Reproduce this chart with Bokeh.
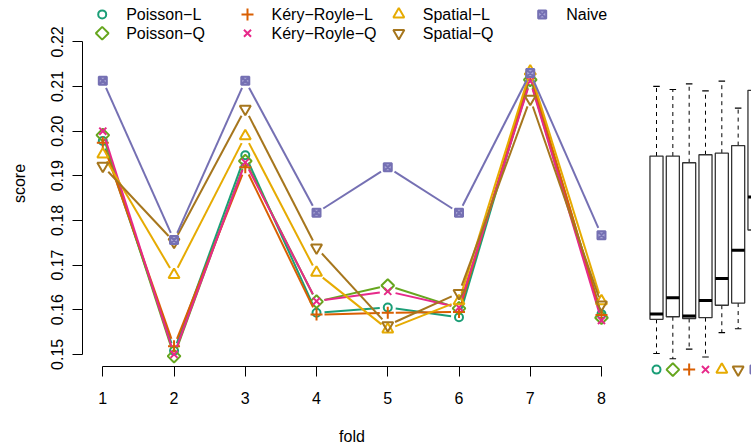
import numpy as np
from bokeh.plotting import figure
from bokeh.models import Range1d, FixedTicker
from bokeh.layouts import row
from bokeh.embed import file_html
from bokeh.resources import INLINE
from bokeh.core.properties import value

# ---------------- data ----------------
folds = [1, 2, 3, 4, 5, 6, 7, 8]
methods = ["Poisson−L", "Poisson−Q", "Kéry−Royle−L", "Kéry−Royle−Q",
           "Spatial−L", "Spatial−Q", "Naive"]
poisson_l = [0.1978, 0.1508, 0.1946, 0.1593, 0.1605, 0.1583, 0.2122, 0.1590]
poisson_q = [0.1991, 0.1496, 0.1933, 0.1618, 0.1654, 0.1603, 0.2115, 0.1582]
kery_l    = [0.1974, 0.1518, 0.1919, 0.1589, 0.1593, 0.1595, 0.2128, 0.1588]
kery_q    = [0.2000, 0.1500, 0.1930, 0.1619, 0.1641, 0.1605, 0.2112, 0.1576]
spatial_l = [0.1948, 0.1678, 0.1989, 0.1683, 0.1556, 0.1619, 0.2134, 0.1619]
spatial_q = [0.1922, 0.1752, 0.2050, 0.1739, 0.1565, 0.1637, 0.2072, 0.1611]
naive     = [0.2113, 0.1756, 0.2113, 0.1817, 0.1919, 0.1817, 0.2130, 0.1767]
series = [poisson_l, poisson_q, kery_l, kery_q, spatial_l, spatial_q, naive]

y_ticks = [0.15, 0.16, 0.17, 0.18, 0.19, 0.20, 0.21, 0.22]
y_tick_labels = ["0.15", "0.16", "0.17", "0.18", "0.19", "0.20", "0.21", "0.22"]
x_tick_labels = ["1", "2", "3", "4", "5", "6", "7", "8"]

# ---------------- styles ----------------
colors = ["#1B9E77", "#66A61E", "#D95F02", "#E7298A", "#E6AB02", "#A6761D", "#7570B3"]
markers = ["circle", "square", "cross", "x", "triangle", "inverted_triangle", "square_x"]
angles = [0, np.pi / 4, 0, 0, 0, 0, 0]
sizes = [8, 9, 12, 10, 11, 11, 8]
fills = [None, None, None, None, None, None, "#A9A6D6"]
FONT = "Liberation Sans"
FS = "16px"

# ---------------- main figure ----------------
W1, H = 640, 447
BL, BR, BT, BB = 82, 19, 0, 78
x0, x1 = 0.715, 8.281
y0, y1 = 0.14727, 0.229267

p = figure(width=W1, height=H, title=None,
           x_range=Range1d(x0, x1), y_range=Range1d(y0, y1),
           output_backend="svg", toolbar_location=None,
           min_border_left=BL, min_border_right=BR,
           min_border_top=BT, min_border_bottom=BB,
           outline_line_color=None, background_fill_color="white",
           frame_align=False)
p.grid.visible = False

xa = p.xaxis[0]
xa.ticker = FixedTicker(ticks=folds)
xa.major_label_overrides = {f: l for f, l in zip(folds, x_tick_labels)}
xa.bounds = (folds[0], folds[-1])
xa.axis_label = "fold"
ya = p.yaxis[0]
ya.ticker = FixedTicker(ticks=y_ticks)
ya.major_label_overrides = {t: l for t, l in zip(y_ticks, y_tick_labels)}
ya.bounds = (y_ticks[0], y_ticks[-1])
ya.axis_label = "score"
ya.major_label_orientation = "vertical"
for ax in (xa, ya):
    ax.major_tick_out = 10
    ax.major_tick_in = 0
    ax.minor_tick_line_color = None
    ax.axis_line_color = "black"
    ax.major_tick_line_color = "black"
    ax.major_label_text_font = FONT
    ax.major_label_text_font_size = FS
    ax.major_label_text_color = "black"
    ax.axis_label_text_font = FONT
    ax.axis_label_text_font_size = FS
    ax.axis_label_text_font_style = "normal"
    ax.axis_label_text_color = "black"
xa.major_label_standoff = 15
xa.axis_label_standoff = 21
ya.major_label_standoff = 9
ya.axis_label_standoff = 21

# px scale for R-style "type = b" gaps
sx = (W1 - BL - BR) / (x1 - x0)
sy = (H - BT - BB) / (y1 - y0)
GAP = 8.0


def gapped(xs, ys):
    a0, b0, a1, b1 = [], [], [], []
    for i in range(len(xs) - 1):
        dxv, dyv = xs[i + 1] - xs[i], ys[i + 1] - ys[i]
        L = np.hypot(dxv * sx, dyv * sy)
        if L <= 2 * GAP:
            continue
        f = GAP / L
        a0.append(xs[i] + dxv * f)
        b0.append(ys[i] + dyv * f)
        a1.append(xs[i + 1] - dxv * f)
        b1.append(ys[i + 1] - dyv * f)
    return a0, b0, a1, b1


for vals, c, m, a, s, fc in zip(series, colors, markers, angles, sizes, fills):
    a0, b0, a1, b1 = gapped(folds, vals)
    p.segment(x0=a0, y0=b0, x1=a1, y1=b1, line_color=c, line_width=2)
    p.scatter(x=folds, y=vals, marker=m, angle=a, size=s, line_color=c,
              line_width=2, fill_color=fc)

# legend (page-pixel layout ranges)
p.extra_x_ranges = {"px": Range1d(BL, W1 - BR)}
p.extra_y_ranges = {"py": Range1d(H - BB, BT)}
leg_col_x = [101.7, 247.0, 398.3, 541.7]
leg_row_y = [14.0, 33.0]
for i, (name, c, m, a, s, fc) in enumerate(zip(methods, colors, markers, angles, sizes, fills)):
    lx = leg_col_x[i // 2]
    ly = leg_row_y[i % 2]
    p.scatter(x=[lx], y=[ly], marker=m, angle=a, size=s, line_color=c,
              line_width=2, fill_color=fc, x_range_name="px", y_range_name="py")
    p.text(x=[lx + 24], y=[ly], text=[name], text_font=value(FONT),
           text_font_size=FS, text_baseline="middle", text_align="left",
           text_color="black", x_range_name="px", y_range_name="py")

# ---------------- boxplot figure ----------------
W2 = 111
BL2, BB2 = 8, 67
bx0, bx1 = 0.51, 6.817
by0, by1 = 0.144598, 0.231954
q = figure(width=W2, height=H, title=None,
           x_range=Range1d(bx0, bx1), y_range=Range1d(by0, by1),
           output_backend="svg", toolbar_location=None,
           x_axis_location=None, y_axis_location=None,
           min_border_left=BL2, min_border_right=0,
           min_border_top=0, min_border_bottom=BB2,
           outline_line_color=None, background_fill_color="white",
           frame_align=False)
q.grid.visible = False


def fivenum(v):
    x = np.sort(np.asarray(v, dtype=float))
    n = len(x)
    n4 = np.floor((n + 3) / 2) / 2
    d = np.array([1, n4, (n + 1) / 2, n + 1 - n4, n]) - 1
    return 0.5 * (x[np.floor(d).astype(int)] + x[np.ceil(d).astype(int)])


lh, med, uh, wlo, whi = [], [], [], [], []
for vals in series:
    st = fivenum(vals)
    iqr = st[3] - st[1]
    arr = np.asarray(vals)
    lo = arr[arr >= st[1] - 1.5 * iqr].min()
    hi = arr[arr <= st[3] + 1.5 * iqr].max()
    lh.append(st[1]); med.append(st[2]); uh.append(st[3])
    wlo.append(lo); whi.append(hi)

pos = np.arange(1, len(series) + 1, dtype=float)
BW = 0.4
CW = 0.2
q.segment(x0=pos, y0=uh, x1=pos, y1=whi, line_color="black", line_width=1, line_dash="4 4")
q.segment(x0=pos, y0=lh, x1=pos, y1=wlo, line_color="black", line_width=1, line_dash="4 4")
q.segment(x0=pos - CW, y0=whi, x1=pos + CW, y1=whi, line_color="black", line_width=1.2)
q.segment(x0=pos - CW, y0=wlo, x1=pos + CW, y1=wlo, line_color="black", line_width=1.2)
q.quad(left=pos - BW, right=pos + BW, bottom=lh, top=uh, fill_color="white",
       line_color="#333333", line_width=1.3)
q.segment(x0=pos - BW, y0=med, x1=pos + BW, y1=med, line_color="black", line_width=3)

sym_y = 0.1471
for k, (c, m, a, s, fc) in enumerate(zip(colors, markers, angles, sizes, fills)):
    q.scatter(x=[pos[k]], y=[sym_y], marker=m, angle=a, size=s, line_color=c,
              line_width=2, fill_color=fc)

layout = row(p, q, spacing=0)
open("out.html", "w").write(file_html(layout, INLINE))
